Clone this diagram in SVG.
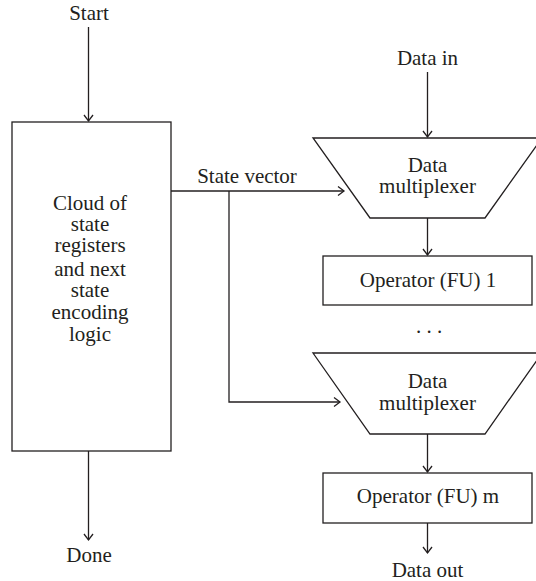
<svg xmlns="http://www.w3.org/2000/svg" width="536" height="581" viewBox="0 0 536 581">
<defs>
<style>
.box{fill:#fff;stroke:#231f20;stroke-width:1.3}
.ln{fill:none;stroke:#231f20;stroke-width:1.3}
text{font-family:"Liberation Serif","Times New Roman",serif;font-size:21px;fill:#231f20;text-anchor:middle}
</style>
<marker id="ah" markerUnits="userSpaceOnUse" markerWidth="12" markerHeight="12" viewBox="-7 -6 8 12" refX="0" refY="0" orient="auto">
<path d="M-6,-4.5 L0,0 L-6,4.5" fill="none" stroke="#231f20" stroke-width="1.3"/>
</marker>
</defs>
<rect width="536" height="581" fill="#fff"/>
<g id="connectors">
<line class="ln" x1="88.5" y1="27" x2="88.5" y2="121" marker-end="url(#ah)"/>
<line class="ln" x1="88.5" y1="451" x2="88.5" y2="540" marker-end="url(#ah)"/>
<line class="ln" x1="171" y1="191" x2="344" y2="191" marker-end="url(#ah)"/>
<polyline class="ln" points="229,191 229,402 340,402" marker-end="url(#ah)"/>
<line class="ln" x1="427.5" y1="72" x2="427.5" y2="137" marker-end="url(#ah)"/>
<line class="ln" x1="427.5" y1="218" x2="427.5" y2="255" marker-end="url(#ah)"/>
<line class="ln" x1="427.5" y1="434" x2="427.5" y2="472" marker-end="url(#ah)"/>
<line class="ln" x1="427.5" y1="523" x2="427.5" y2="553" marker-end="url(#ah)"/>
<text x="247" y="183">State vector</text>
</g>
<g id="start"><text x="89" y="20">Start</text></g>
<g id="done"><text x="89" y="562">Done</text></g>
<g id="data-in"><text x="427.5" y="65">Data in</text></g>
<g id="data-out"><text x="427.5" y="577">Data out</text></g>
<g id="state-logic">
<rect class="box" x="12" y="122" width="159" height="329"/>
<text x="90" y="210">Cloud of</text>
<text x="90" y="231">state</text>
<text x="90" y="252">registers</text>
<text x="90" y="276">and next</text>
<text x="90" y="297">state</text>
<text x="90" y="319">encoding</text>
<text x="90" y="341">logic</text>
</g>
<g id="mux1">
<polygon class="box" points="313,138 542,138 485,218 370,218"/>
<text x="427.5" y="172">Data</text>
<text x="427.5" y="193">multiplexer</text>
</g>
<g id="fu1">
<rect class="box" x="323" y="256" width="209" height="49"/>
<text x="428" y="287">Operator (FU) 1</text>
</g>
<g id="dots"><text x="429" y="333">. . .</text></g>
<g id="mux2">
<polygon class="box" points="313,353 542,353 485,434 370,434"/>
<text x="427.5" y="388">Data</text>
<text x="427.5" y="410">multiplexer</text>
</g>
<g id="fum">
<rect class="box" x="323" y="473" width="209" height="50"/>
<text x="428" y="503">Operator (FU) m</text>
</g>
</svg>
